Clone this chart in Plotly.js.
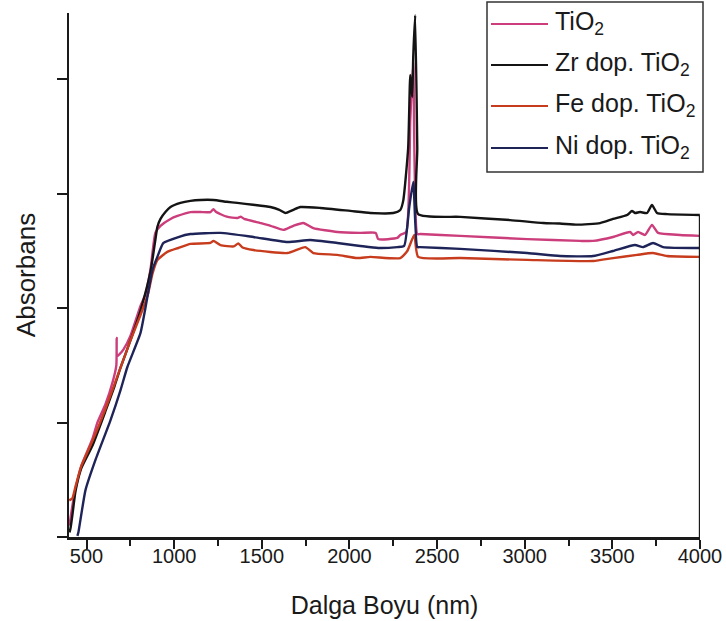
<!DOCTYPE html>
<html>
<head>
<meta charset="utf-8">
<script src="https://cdn.plot.ly/plotly-3.0.1.min.js"></script>
<style>html,body{margin:0;padding:0;background:#fff;}#chart{width:726px;height:621px;}</style>
</head>
<body>
<div id="chart"></div>
<script>
// Series names
const seriesNames = ["TiO<sub>2</sub>", "Zr dop. TiO<sub>2</sub>", "Fe dop. TiO<sub>2</sub>", "Ni dop. TiO<sub>2</sub>"];
const xTickVals = [500, 1000, 1500, 2000, 2500, 3000, 3500, 4000];
const xMinorVals = [750, 1250, 1750, 2250, 2750, 3250, 3750];
const yTickVals = [0, 0.5, 1, 1.5, 2];

// TiO2 (pink)
const tio2X = [403, 410, 420, 437, 470, 534, 562, 608, 650, 670, 672, 674, 690, 711, 751, 808, 836, 865, 893, 922, 979, 1019, 1093, 1150, 1207, 1224, 1240, 1300, 1360, 1380, 1400, 1492, 1550, 1623, 1680, 1737, 1794, 1931, 2062, 2150, 2164, 2273, 2290, 2324, 2347, 2364, 2387, 2404, 2632, 3014, 3316, 3390, 3504, 3601, 3618, 3647, 3686, 3726, 3761, 3886, 3999];
const tio2Y = [0.05, 0.09, 0.14, 0.21, 0.31, 0.43, 0.50, 0.58, 0.68, 0.75, 0.87, 0.79, 0.80, 0.82, 0.88, 1.01, 1.06, 1.17, 1.33, 1.36, 1.39, 1.403, 1.42, 1.42, 1.42, 1.433, 1.42, 1.40, 1.394, 1.40, 1.39, 1.372, 1.36, 1.342, 1.36, 1.372, 1.35, 1.333, 1.329, 1.329, 1.302, 1.307, 1.32, 1.333, 1.823, 2.076, 1.324, 1.324, 1.316, 1.302, 1.294, 1.294, 1.311, 1.333, 1.320, 1.333, 1.320, 1.364, 1.329, 1.320, 1.316];

// Zr dop. TiO2 (black, top curve)
const zrX = [403, 409, 420, 437, 470, 534, 608, 660, 694, 751, 808, 865, 893, 904, 922, 950, 979, 1036, 1093, 1150, 1224, 1300, 1360, 1450, 1549, 1600, 1634, 1680, 1720, 1834, 2005, 2119, 2250, 2290, 2307, 2335, 2347, 2358, 2364, 2375, 2387, 2392, 2632, 2917, 3105, 3200, 3300, 3430, 3504, 3584, 3612, 3629, 3658, 3698, 3726, 3755, 3812, 3999];
const zrY = [0.02, 0.04, 0.10, 0.20, 0.30, 0.40, 0.55, 0.66, 0.74, 0.86, 0.99, 1.16, 1.30, 1.355, 1.39, 1.42, 1.442, 1.46, 1.469, 1.473, 1.473, 1.465, 1.46, 1.452, 1.442, 1.43, 1.416, 1.43, 1.442, 1.438, 1.425, 1.416, 1.416, 1.429, 1.47, 1.70, 2.019, 1.923, 2.10, 2.28, 1.70, 1.411, 1.399, 1.385, 1.372, 1.37, 1.365, 1.372, 1.390, 1.407, 1.425, 1.416, 1.420, 1.416, 1.451, 1.416, 1.411, 1.407];

// Fe dop. TiO2 (orange-red)
const feX = [401, 412, 420, 437, 470, 534, 608, 694, 751, 808, 850, 876, 904, 961, 1024, 1093, 1207, 1224, 1264, 1340, 1366, 1390, 1452, 1646, 1748, 1794, 1931, 2045, 2119, 2290, 2330, 2370, 2392, 2632, 3014, 3390, 3504, 3641, 3732, 3812, 3999];
const feY = [0.16, 0.165, 0.17, 0.22, 0.31, 0.42, 0.56, 0.74, 0.86, 0.97, 1.06, 1.15, 1.21, 1.246, 1.263, 1.281, 1.285, 1.294, 1.276, 1.27, 1.283, 1.265, 1.254, 1.241, 1.267, 1.241, 1.233, 1.219, 1.224, 1.219, 1.25, 1.32, 1.224, 1.219, 1.211, 1.206, 1.219, 1.233, 1.241, 1.228, 1.224];

// Ni dop. TiO2 (navy, third curve)
const niX = [448, 454, 494, 551, 637, 694, 733, 808, 836, 876, 904, 939, 1024, 1093, 1264, 1452, 1646, 1777, 1931, 2062, 2164, 2273, 2312, 2341, 2364, 2387, 2404, 2632, 3014, 3202, 3390, 3504, 3629, 3675, 3732, 3789, 3999];
const niY = [0.005, 0.022, 0.205, 0.337, 0.511, 0.642, 0.743, 0.892, 1.001, 1.167, 1.224, 1.285, 1.311, 1.324, 1.329, 1.311, 1.289, 1.298, 1.285, 1.272, 1.263, 1.267, 1.272, 1.44, 1.552, 1.267, 1.267, 1.259, 1.241, 1.228, 1.228, 1.250, 1.276, 1.267, 1.285, 1.267, 1.263];

const colors = ["#cc3d7c", "#141414", "#c83c1e", "#1e2458"];
const xs = [tio2X, zrX, feX, niX];
const ys = [tio2Y, zrY, feY, niY];

const FONT = '"Liberation Sans", Arial, sans-serif';
const W = 726, H = 621;
const M = {l: 69, r: 26, t: 13, b: 84};
const PW = W - M.l - M.r, PH = H - M.t - M.b;
const px = v => (v - M.l) / PW;
const py = v => (H - M.b - v) / PH;

const traces = seriesNames.map((n, i) => ({
  type: 'scatter', mode: 'lines', name: n,
  x: xs[i], y: ys[i], showlegend: false,
  line: {color: colors[i], width: 2.4, shape: 'spline', smoothing: 0.5}
}));
// invisible helper trace so the label axis is drawn
traces.push({type: 'scatter', mode: 'lines', x: [xTickVals[0]], y: [yTickVals[0]], xaxis: 'x2', showlegend: false, hoverinfo: 'skip', line: {width: 0}, opacity: 0});

// Manual legend (box, line samples, labels)
const legRows = [24, 65, 106, 148];
const shapes = [{
  type: 'rect', xref: 'paper', yref: 'paper',
  x0: px(487), x1: px(703), y0: py(172), y1: py(2),
  fillcolor: '#fff', line: {color: '#333', width: 1.5}, layer: 'above'
}];
const annotations = [];
seriesNames.forEach((n, i) => {
  shapes.push({
    type: 'line', xref: 'paper', yref: 'paper', layer: 'above',
    x0: px(491), x1: px(548), y0: py(legRows[i]), y1: py(legRows[i]),
    line: {color: colors[i], width: 2.2}
  });
  annotations.push({
    xref: 'paper', yref: 'paper', x: px(553), y: py(legRows[i] - 1),
    xanchor: 'left', yanchor: 'middle', showarrow: false,
    text: n, font: {family: FONT, size: 25, color: '#1a1a1a'}
  });
});
// right-edge drop line at end of the top curve
shapes.push({
  type: 'line', xref: 'x', yref: 'y',
  x0: zrX[zrX.length - 1], x1: zrX[zrX.length - 1],
  y0: 0, y1: zrY[zrY.length - 1],
  line: {color: '#1a1a1a', width: 2}
});

const layout = {
  width: W, height: H,
  margin: {l: M.l, r: M.r, t: M.t, b: M.b, autoexpand: false},
  paper_bgcolor: '#fff', plot_bgcolor: '#fff',
  font: {family: FONT, color: '#1a1a1a'},
  showlegend: false,
  xaxis: {
    range: [400, 4000], tickvals: xTickVals,
    ticks: 'outside', ticklen: 9, tickwidth: 2, tickcolor: '#1a1a1a',
    minor: {tickvals: xMinorVals, ticks: 'outside', ticklen: 6, tickwidth: 2, tickcolor: '#1a1a1a'},
    showline: true, linecolor: '#1a1a1a', linewidth: 2.5,
    showgrid: false, zeroline: false, showticklabels: false
  },
  xaxis2: {
    overlaying: 'x', anchor: 'y', side: 'bottom',
    range: [400, 4000], tickvals: xTickVals,
    ticks: '', showline: false, showgrid: false, zeroline: false,
    ticklabelstandoff: 5,
    tickfont: {family: FONT, size: 20, color: '#1a1a1a'},
    title: {text: 'Dalga Boyu (nm)', font: {family: FONT, size: 25, color: '#1a1a1a'}, standoff: 30}
  },
  yaxis: {
    range: [0, 2.29], tickvals: yTickVals,
    ticks: 'outside', ticklen: 10, tickwidth: 2, tickcolor: '#1a1a1a',
    showticklabels: false,
    showline: true, linecolor: '#1a1a1a', linewidth: 2.5,
    showgrid: false, zeroline: false,
    title: {text: 'Absorbans', font: {family: FONT, size: 26, color: '#1a1a1a'}, standoff: 14}
  },
  shapes: shapes,
  annotations: annotations
};

Plotly.newPlot('chart', traces, layout, {displayModeBar: false, staticPlot: true});
</script>
</body>
</html>
